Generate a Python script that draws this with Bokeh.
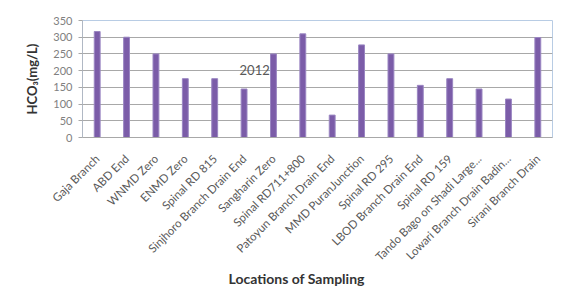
from bokeh.plotting import figure
from bokeh.models import ColumnDataSource, Label, Range1d, FixedTicker, Title
from bokeh.embed import file_html
from bokeh.resources import INLINE
import math

locations = [
    "Gaja Branch", "ABD End", "WNMD Zero", "ENMD Zero", "Spinal RD 815",
    "Sinjhoro Branch Drain End", "Sangharin Zero", "Spinal RD711+800",
    "Patoyun Branch Drain End", "MMD PuranJunction", "Spinal RD 295",
    "LBOD Branch Drain End", "Spinal RD 159", "Tando Bago on Shadi Large...",
    "Lowari Branch Drain Badin...", "Sirani Branch Drain",
]
hco3 = [317, 300, 250, 176, 176, 145, 250, 310, 67, 277, 250, 156, 176, 145, 115, 299]
y_ticks = [0, 50, 100, 150, 200, 250, 300, 350]

source = ColumnDataSource(dict(loc=locations, val=hco3))

p = figure(
    x_range=locations, y_range=Range1d(0, 350),
    frame_width=470, frame_height=117, output_backend="svg", toolbar_location=None,
    min_border_left=82, min_border_right=4, min_border_top=20, min_border_bottom=150,
)
p.x_range.range_padding = 0

p.vbar(x="loc", top="val", width=0.2, source=source,
       fill_color="#7B5CA8", line_color="#9A86C2", line_width=1)

p.outline_line_color = "#B8CCE4"
p.xgrid.grid_line_color = None
p.ygrid.grid_line_color = "#A8A8A8"
p.ygrid.grid_line_width = 1

p.yaxis.ticker = FixedTicker(ticks=y_ticks)
p.yaxis.axis_line_color = "#B0B8C4"
p.yaxis.major_tick_line_color = "#A8A8A8"
p.yaxis.major_tick_out = 4
p.yaxis.major_tick_in = 0
p.yaxis.minor_tick_line_color = None
p.yaxis.major_label_text_font = "Lato"
p.yaxis.major_label_text_font_size = "11px"
p.yaxis.major_label_text_color = "#808080"
p.yaxis.major_label_standoff = 6
p.yaxis.axis_label = "HCO\u2083(mg/L)"
p.yaxis.axis_label_text_font = "Lato"
p.yaxis.axis_label_text_font_style = "bold"
p.yaxis.axis_label_text_font_size = "13px"
p.yaxis.axis_label_text_color = "#333333"
p.yaxis.axis_label_standoff = 10

p.xaxis.axis_line_color = "#A8A8A8"
p.xaxis.major_tick_line_color = None
p.xaxis.major_label_orientation = math.pi / 4
p.xaxis.major_label_text_font = "Lato"
p.xaxis.major_label_text_font_size = "11.5px"
p.xaxis.major_label_text_color = "#595959"
p.xaxis.major_label_standoff = 13

p.add_layout(Title(text="Locations of Sampling", align="left", offset=146,
                   standoff=-5, text_font="Lato", text_font_style="bold",
                   text_font_size="14px", text_color="#333333"), "below")

p.add_layout(Label(x=5.86, y=202, text="2012", text_align="center",
                   text_baseline="middle", text_font="Lato",
                   text_font_size="13px", text_color="#595959"))

open("out.html", "w").write(file_html(p, INLINE))
